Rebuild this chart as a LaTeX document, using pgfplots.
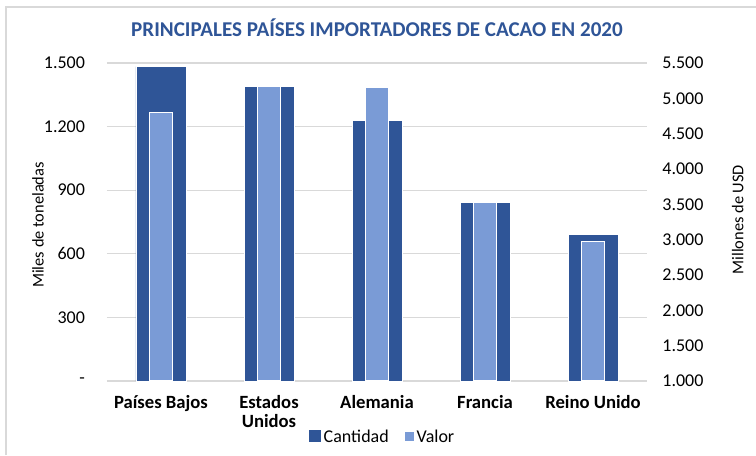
\documentclass[border=0pt]{standalone}
\usepackage{pgfplots}
\pgfplotsset{compat=1.18}
\usepackage{fontspec}
\setmainfont{Carlito}
\definecolor{cantidad}{HTML}{2F5597}
\definecolor{valor}{HTML}{7A9BD6}
\definecolor{gridgray}{HTML}{D9D9D9}
\definecolor{titleblue}{HTML}{2F5597}

\begin{document}
\begin{tikzpicture}
\useasboundingbox (-80.25pt,-55.5pt) rectangle (486.75pt,285.75pt);
\draw[gridgray, line width=0.8pt] (-75.75pt,-55.5pt) -- (-75.75pt,280.5pt) -- (486.75pt,280.5pt);

\begin{axis}[
    scale only axis,
    width=405pt, height=238.5pt,
    xmin=-0.5, xmax=4.5,
    ymin=0, ymax=1500,
    axis y line*=left,
    axis x line*=bottom,
    axis line style={draw=none},
    xtick={0,1,2,3,4},
    xticklabels={Países Bajos, {Estados\\Unidos}, Alemania, Francia, Reino Unido},
    xticklabel style={font=\fontsize{14}{14.5}\selectfont\bfseries, align=center, anchor=north, yshift=-7pt},
    ytick={0,300,600,900,1200,1500},
    yticklabels={-,300,600,900,1.200,1.500},
    yticklabel style={font=\fontsize{13.5}{15}\selectfont, xshift=-13pt},
    major tick length=0pt,
    ymajorgrids,
    grid style={gridgray, line width=0.8pt},
    ybar, bar shift=0pt, bar width=37.5pt,
    clip=false,
]
\addplot[fill=cantidad, draw=white, line width=0.5pt] coordinates {
    (0,1483) (1,1391) (2,1230) (3,844) (4,692)};
\end{axis}

\begin{axis}[
    scale only axis,
    width=405pt, height=238.5pt,
    xmin=-0.5, xmax=4.5,
    ymin=1000, ymax=5500,
    axis y line*=right,
    axis x line=none,
    axis line style={draw=none},
    ytick={1000,1500,...,5500},
    /pgf/number format/.cd, 1000 sep={.}, assume math mode=true,
    /pgfplots/.cd,
    yticklabel style={font=\fontsize{13.5}{15}\selectfont, xshift=8pt},
    major tick length=0pt,
    ybar, bar shift=0pt, bar width=17.25pt,
    legend style={at={(207pt,-42pt)}, anchor=center, draw=none,
        legend columns=2, font=\fontsize{13.5}{15}\selectfont,
        /tikz/every even column/.append style={column sep=10pt}},
    clip=false,
]
\addlegendimage{fill=cantidad, draw=none,
    legend image code/.code={\fill[cantidad] (0pt,-4pt) rectangle (9pt,5pt);}}
\addlegendentry{Cantidad}
\addplot[fill=valor, draw=white, line width=0.8pt,
    legend image code/.code={\fill[valor] (3pt,-2.5pt) rectangle (9pt,3.5pt);}] coordinates {
    (0,4802) (1,5174) (2,5160) (3,3529) (4,2971)};
\addlegendentry{Valor}
\end{axis}

\node[font=\fontsize{15.8}{18}\selectfont\bfseries, text=titleblue] at (202.5pt,264.75pt) {PRINCIPALES PAÍSES IMPORTADORES DE CACAO EN 2020};
\node[font=\fontsize{12.3}{14}\selectfont, rotate=90] at (-51.75pt,117pt) {Miles de toneladas};
\node[font=\fontsize{12.3}{14}\selectfont, rotate=90] at (473pt,121pt) {Millones de USD};
\end{tikzpicture}
\end{document}
